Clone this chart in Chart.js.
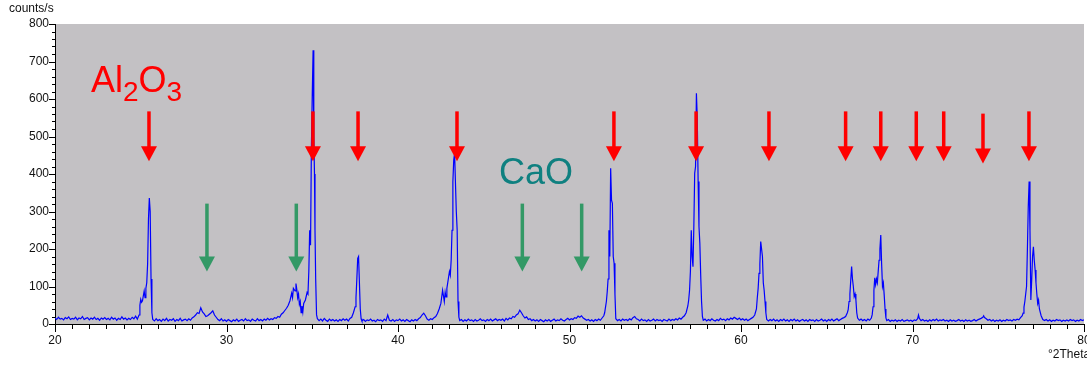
<!DOCTYPE html>
<html>
<head>
<meta charset="utf-8">
<script src="https://cdn.jsdelivr.net/npm/chart.js@4.4.0/dist/chart.umd.min.js"></script>
<style>
  body { margin: 0; background: #fff; overflow: hidden; }
  #wrap { position: relative; width: 1087px; height: 365px; font-family: Arial, "Liberation Sans", sans-serif; }
  .lbl { position: absolute; white-space: nowrap; line-height: 1; }
  .axisTitle { font-size: 12px; color: #111; }
  .phase { font-size: 36px; }
  .phase .sub { font-size: 28px; position: relative; top: 9px; }
</style>
</head>
<body>
<div id="wrap">
  <canvas id="xrd"></canvas>
  <div class="lbl axisTitle" style="left:9px; top:2px;">counts/s</div>
  <div class="lbl axisTitle" style="left:1048px; top:348px;">°2Theta</div>
  <div class="lbl phase" style="left:91px; top:62px; color:#ff0000;">Al<span class="sub">2</span>O<span class="sub">3</span></div>
  <div class="lbl phase" style="left:499px; top:154px; font-size:36px; color:#0f8080;">CaO</div>
</div>
<script>
// diffractogramme : [2theta, counts/s]
const scan = [
  [20.0,16],[20.1,12],[20.2,18],[20.3,13],[20.4,15],[20.5,11],[20.6,17],[20.7,14],[20.8,19],[20.9,12],
  [21.0,15],[21.1,13],[21.2,18],[21.3,11],[21.4,16],[21.5,14],[21.6,20],[21.7,12],[21.8,15],[21.9,17],
  [22.0,11],[22.1,16],[22.2,13],[22.3,18],[22.4,12],[22.5,15],[22.6,10],[22.7,16],[22.8,13],[22.9,17],
  [23.0,12],[23.1,15],[23.2,11],[23.3,18],[23.4,13],[23.5,16],[23.6,10],[23.7,15],[23.8,12],[23.9,19],
  [24.0,13],[24.1,16],[24.2,11],[24.3,15],[24.4,12],[24.5,18],[24.6,14],[24.7,21],[24.8,13],[24.9,24],
  [24.95,50],[25.0,66],[25.05,58],[25.1,62],[25.15,75],[25.2,88],[25.25,70],[25.3,95],[25.35,110],[25.4,160],
  [25.45,280],[25.5,336],[25.55,300],[25.6,120],[25.65,30],[25.7,12],
  [25.8,8],[25.9,14],[26.0,9],[26.1,12],[26.2,7],[26.3,13],[26.4,9],[26.5,15],[26.6,8],[26.7,12],[26.8,10],[26.9,14],
  [27.0,7],[27.1,12],[27.2,9],[27.3,15],[27.4,8],[27.5,11],[27.6,13],[27.7,9],[27.8,14],[27.9,10],
  [28.0,16],[28.1,19],[28.2,24],[28.3,30],[28.4,28],[28.5,43],[28.6,32],[28.7,27],[28.8,20],[28.9,22],
  [29.0,26],[29.1,30],[29.2,35],[29.3,24],[29.4,18],[29.5,12],[29.6,9],[29.7,14],[29.8,8],[29.9,11],
  [30.0,7],[30.1,12],[30.2,9],[30.3,6],[30.4,11],[30.5,8],[30.6,13],[30.7,7],[30.8,10],[30.9,12],
  [31.0,8],[31.1,14],[31.2,9],[31.3,11],[31.4,7],[31.5,13],[31.6,10],[31.7,8],[31.8,14],[31.9,9],
  [32.0,12],[32.1,8],[32.2,13],[32.3,10],[32.4,15],[32.5,11],[32.6,14],[32.7,12],[32.8,17],[32.9,15],
  [33.0,20],[33.1,18],[33.2,26],[33.3,30],[33.4,36],[33.5,42],[33.6,50],[33.7,62],[33.8,82],[33.85,70],
  [33.9,95],[34.0,88],[34.05,108],[34.1,92],[34.15,70],[34.2,80],[34.25,52],[34.3,60],[34.35,30],[34.4,48],
  [34.45,32],[34.5,55],[34.6,64],[34.7,84],[34.75,80],[34.8,140],[34.85,250],[34.9,210],[34.95,470],[35.0,610],
  [35.05,730],[35.08,540],[35.1,500],[35.13,400],[35.16,250],[35.2,120],[35.25,25],[35.3,14],
  [35.4,9],[35.5,13],[35.6,8],[35.7,15],[35.8,10],[35.9,7],[36.0,13],[36.1,9],[36.2,12],[36.3,8],
  [36.4,11],[36.5,7],[36.6,12],[36.7,9],[36.8,14],[36.9,10],[37.0,13],[37.1,8],[37.2,15],[37.3,18],
  [37.4,30],[37.5,46],[37.55,70],[37.6,120],[37.65,175],[37.7,180],[37.75,110],[37.8,40],[37.85,14],[37.9,8],
  [38.0,12],[38.1,7],[38.2,11],[38.3,9],[38.4,13],[38.5,8],[38.6,10],[38.7,6],[38.8,12],[38.9,9],
  [39.0,11],[39.1,7],[39.2,13],[39.3,9],[39.4,24],[39.5,10],[39.6,8],[39.7,12],[39.8,7],[39.9,11],
  [40.0,9],[40.1,13],[40.2,8],[40.3,11],[40.4,7],[40.5,12],[40.6,9],[40.7,6],[40.8,11],[40.9,8],
  [41.0,12],[41.1,9],[41.2,14],[41.3,17],[41.4,24],[41.5,29],[41.6,22],[41.7,13],[41.8,10],[41.9,14],
  [42.0,12],[42.1,17],[42.2,20],[42.3,28],[42.4,40],[42.5,55],[42.6,90],[42.65,75],[42.7,60],[42.75,85],
  [42.8,72],[42.85,95],[42.9,110],[43.0,140],[43.05,130],[43.1,170],[43.15,250],[43.2,380],[43.25,437],[43.3,456],
  [43.35,376],[43.4,300],[43.45,250],[43.5,60],[43.55,18],[43.6,9],
  [43.7,12],[43.8,7],[43.9,11],[44.0,8],[44.1,13],[44.2,9],[44.3,11],[44.4,7],[44.5,12],[44.6,8],
  [44.7,10],[44.8,14],[44.9,9],[45.0,11],[45.1,7],[45.2,12],[45.3,9],[45.4,13],[45.5,8],[45.6,11],
  [45.7,14],[45.8,9],[45.9,12],[46.0,10],[46.1,13],[46.2,8],[46.3,15],[46.4,11],[46.5,16],[46.6,14],
  [46.7,20],[46.8,18],[46.9,24],[47.0,27],[47.1,37],[47.2,30],[47.3,22],[47.4,16],[47.5,19],[47.6,12],
  [47.7,14],[47.8,9],[47.9,12],[48.0,8],[48.1,11],[48.2,7],[48.3,12],[48.4,9],[48.5,6],[48.6,11],
  [48.7,8],[48.8,12],[48.9,7],[49.0,10],[49.1,13],[49.2,8],[49.3,11],[49.4,9],[49.5,14],[49.6,10],
  [49.7,8],[49.8,12],[49.9,15],[50.0,11],[50.1,14],[50.2,12],[50.3,17],[50.4,15],[50.5,21],[50.6,18],
  [50.7,22],[50.8,16],[50.9,13],[51.0,10],[51.1,12],[51.2,8],[51.3,11],[51.4,7],[51.5,12],[51.6,9],
  [51.7,13],[51.8,10],[51.9,16],[52.0,22],[52.05,30],[52.1,45],[52.15,60],[52.2,86],[52.25,120],[52.3,250],
  [52.35,180],[52.4,415],[52.45,330],[52.5,322],[52.55,180],[52.6,162],[52.65,80],[52.7,14],[52.8,9],[52.9,12],
  [53.0,8],[53.1,13],[53.2,10],[53.3,12],[53.4,9],[53.5,14],[53.6,11],[53.7,17],[53.8,20],[53.9,14],
  [54.0,12],[54.1,8],[54.2,13],[54.3,9],[54.4,11],[54.5,7],[54.6,12],[54.7,8],[54.8,10],[54.9,13],
  [55.0,8],[55.1,12],[55.2,9],[55.3,11],[55.4,7],[55.5,12],[55.6,10],[55.7,8],[55.8,13],[55.9,9],
  [56.0,12],[56.1,10],[56.2,14],[56.3,11],[56.4,16],[56.5,13],[56.6,18],[56.7,22],[56.8,30],[56.9,48],
  [56.95,64],[57.0,90],[57.05,140],[57.1,250],[57.15,180],[57.2,153],[57.25,260],[57.3,402],[57.35,420],[57.4,615],
  [57.45,550],[57.5,380],[57.55,260],[57.6,215],[57.65,130],[57.7,60],[57.75,20],[57.8,10],
  [57.9,13],[58.0,8],[58.1,12],[58.2,9],[58.3,14],[58.4,10],[58.5,8],[58.6,12],[58.7,9],[58.8,15],
  [58.9,11],[59.0,13],[59.1,9],[59.2,14],[59.3,11],[59.4,16],[59.5,13],[59.6,18],[59.7,15],[59.8,12],
  [59.9,16],[60.0,11],[60.1,14],[60.2,10],[60.3,13],[60.4,9],[60.5,12],[60.6,15],[60.7,18],[60.8,24],
  [60.9,40],[60.95,70],[61.0,95],[61.05,135],[61.1,160],[61.15,220],[61.2,200],[61.25,180],[61.3,110],[61.35,90],
  [61.4,60],[61.45,30],[61.5,12],
  [61.6,8],[61.7,12],[61.8,9],[61.9,13],[62.0,8],[62.1,11],[62.2,7],[62.3,12],[62.4,9],[62.5,13],
  [62.6,8],[62.7,11],[62.8,7],[62.9,12],[63.0,9],[63.1,13],[63.2,8],[63.3,11],[63.4,7],[63.5,10],
  [63.6,12],[63.7,8],[63.8,11],[63.9,7],[64.0,12],[64.1,9],[64.2,11],[64.3,7],[64.4,12],[64.5,8],
  [64.6,10],[64.7,13],[64.8,8],[64.9,11],[65.0,7],[65.1,12],[65.2,9],[65.3,13],[65.4,8],[65.5,11],
  [65.6,14],[65.7,9],[65.8,12],[65.9,15],[66.0,17],[66.1,20],[66.2,30],[66.25,38],[66.3,60],[66.35,80],
  [66.4,117],[66.45,153],[66.5,120],[66.55,100],[66.6,73],[66.65,80],[66.7,64],[66.75,30],[66.8,16],[66.9,10],
  [67.0,13],[67.1,9],[67.2,12],[67.3,8],[67.4,13],[67.5,10],[67.6,16],[67.65,25],[67.7,46],[67.75,90],
  [67.8,123],[67.85,105],[67.9,120],[67.95,110],[68.0,140],[68.05,170],[68.1,200],[68.15,237],[68.2,160],[68.25,100],
  [68.3,110],[68.35,77],[68.4,40],[68.45,16],[68.5,9],
  [68.6,12],[68.7,7],[68.8,10],[68.9,8],[69.0,11],[69.1,7],[69.2,10],[69.3,8],[69.4,12],[69.5,7],
  [69.6,9],[69.7,11],[69.8,8],[69.9,10],[70.0,7],[70.1,11],[70.2,9],[70.3,14],[70.35,24],[70.4,15],
  [70.5,9],[70.6,12],[70.7,8],[70.8,10],[70.9,7],[71.0,11],[71.1,8],[71.2,12],[71.3,9],[71.4,13],
  [71.5,8],[71.6,11],[71.7,9],[71.8,12],[71.9,8],[72.0,10],[72.1,7],[72.2,11],[72.3,8],[72.4,10],
  [72.5,7],[72.6,9],[72.7,12],[72.8,8],[72.9,10],[73.0,7],[73.1,11],[73.2,8],[73.3,10],[73.4,7],
  [73.5,9],[73.6,12],[73.7,8],[73.8,11],[73.9,13],[74.0,15],[74.1,18],[74.15,22],[74.2,17],[74.3,14],
  [74.4,10],[74.5,12],[74.6,8],[74.7,11],[74.8,7],[74.9,10],[75.0,8],[75.1,11],[75.2,7],[75.3,10],
  [75.4,8],[75.5,12],[75.6,9],[75.7,11],[75.8,8],[75.9,12],[76.0,10],[76.1,13],[76.2,11],[76.3,17],
  [76.4,22],[76.45,29],[76.5,45],[76.55,60],[76.6,80],[76.65,100],[76.7,200],[76.75,313],[76.8,380],[76.85,250],
  [76.9,64],[76.95,117],[77.0,180],[77.05,206],[77.1,170],[77.15,144],[77.2,110],[77.25,80],[77.3,55],[77.35,64],
  [77.4,40],[77.5,22],[77.6,12],
  [77.7,9],[77.8,12],[77.9,8],[78.0,11],[78.1,7],[78.2,10],[78.3,8],[78.4,12],[78.5,9],[78.6,11],
  [78.7,7],[78.8,10],[78.9,8],[79.0,11],[79.1,8],[79.2,12],[79.3,9],[79.4,11],[79.5,7],[79.6,10],
  [79.7,8],[79.8,12],[79.9,9],[80.0,11]
];

// positions des fleches (2theta)
const al2o3Peaks = [25.48, 35.04, 37.67, 43.44, 52.59, 57.38, 61.63, 66.1, 68.15, 70.22, 71.82, 74.11, 76.79];
const al2o3Tips  = [434, 434, 434, 434, 434, 434, 434, 434, 434, 434, 434, 428, 434];
const caoPeaks = [28.86, 34.07, 47.25, 50.71];

// axes
const xRange = [20, 80];
const yRange = [0, 800];

const plotBg = {
    id: 'plotBg',
    beforeDraw(chart) {
        const { ctx, chartArea: a } = chart;
        ctx.save();
        ctx.fillStyle = '#c3c1c4';
        ctx.fillRect(a.left, a.top, a.right - a.left, a.bottom - a.top);
        ctx.restore();
    }
};

// petites graduations dessinees a la main (majeures / mineures)
const tickMarks = {
    id: 'tickMarks',
    afterDraw(chart) {
        const { ctx, scales: { x, y } } = chart;
        ctx.save();
        ctx.strokeStyle = '#000';
        ctx.lineWidth = 1;
        x.ticks.forEach(t => {
            const px = Math.round(x.getPixelForValue(t.value)) + 0.5;
            const len = t.value % 10 === 0 ? 8 : 5;
            ctx.beginPath();
            ctx.moveTo(px, x.top);
            ctx.lineTo(px, x.top + len);
            ctx.stroke();
        });
        y.ticks.forEach(t => {
            const py = Math.round(y.getPixelForValue(t.value)) + 0.5;
            const len = t.value % 100 === 0 ? 6 : 3;
            ctx.beginPath();
            ctx.moveTo(y.right, py);
            ctx.lineTo(y.right - len, py);
            ctx.stroke();
        });
        ctx.restore();
    }
};

function drawArrow(ctx, x, yTop, yBase, yTip, color) {
    ctx.fillStyle = color;
    ctx.fillRect(x - 1.75, yTop, 3.5, yBase - yTop + 1);
    ctx.beginPath();
    ctx.moveTo(x - 8, yBase);
    ctx.lineTo(x + 8, yBase);
    ctx.lineTo(x, yTip);
    ctx.closePath();
    ctx.fill();
}

const arrows = {
    id: 'arrows',
    afterDatasetsDraw(chart) {
        const { ctx, scales: { x, y } } = chart;
        ctx.save();
        al2o3Peaks.forEach((p, i) => {
            const tip = al2o3Tips[i];
            drawArrow(ctx, x.getPixelForValue(p), y.getPixelForValue(tip + 133),
                y.getPixelForValue(tip + 40), y.getPixelForValue(tip), '#ff0000');
        });
        caoPeaks.forEach(p => {
            drawArrow(ctx, x.getPixelForValue(p), y.getPixelForValue(321),
                y.getPixelForValue(180), y.getPixelForValue(140), '#339966');
        });
        ctx.restore();
    }
};

const tickFont = { family: 'Arial, "Liberation Sans", sans-serif', size: 12 };

new Chart(document.getElementById('xrd'), {
    type: 'line',
    data: {
        datasets: [{
            data: scan.map(([t, c]) => ({ x: t, y: c })),
            borderColor: '#0000ff',
            borderWidth: 1.2,
            pointRadius: 0,
            tension: 0
        }]
    },
    options: {
        responsive: true,
        maintainAspectRatio: false,
        animation: false,
        layout: { padding: { left: 0, top: 24, right: 3, bottom: 0 } },
        plugins: { legend: { display: false }, tooltip: { enabled: false } },
        scales: {
            x: {
                type: 'linear',
                min: xRange[0],
                max: xRange[1],
                afterFit: s => { s.height = 41; s.paddingLeft = 0; s.paddingRight = 0; },
                border: { display: true, color: '#000', width: 1 },
                grid: { drawOnChartArea: false, drawTicks: false },
                ticks: {
                    stepSize: 1,
                    autoSkip: false,
                    maxRotation: 0,
                    padding: 9,
                    color: '#111',
                    font: tickFont,
                    callback: v => (v % 10 === 0 ? v : '')
                }
            },
            y: {
                min: yRange[0],
                max: yRange[1],
                afterFit: s => { s.width = 55; s.paddingTop = 0; s.paddingBottom = 0; },
                border: { display: true, color: '#000', width: 1 },
                grid: { drawOnChartArea: false, drawTicks: false },
                ticks: {
                    stepSize: 20,
                    autoSkip: false,
                    padding: 6,
                    color: '#111',
                    font: tickFont,
                    callback: v => (v % 100 === 0 ? v : '')
                }
            }
        }
    },
    plugins: [plotBg, tickMarks, arrows]
});
</script>
</body>
</html>
